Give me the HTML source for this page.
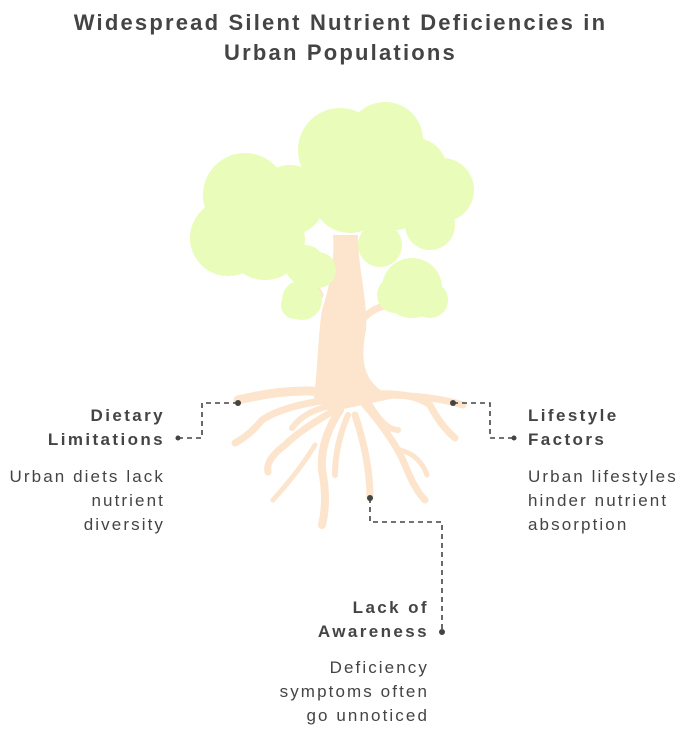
<!DOCTYPE html>
<html><head><meta charset="utf-8"><style>
body{margin:0;width:681px;height:729px;background:#fff;position:relative;font-family:"Liberation Sans",sans-serif;color:#444;overflow:hidden}
.t{position:absolute;white-space:nowrap}
h1{position:absolute;top:8px;left:0;width:681px;margin:0;text-align:center;font-size:22px;line-height:30px;font-weight:bold;color:#444;letter-spacing:2.2px}
.b{font-weight:bold;font-size:17px;line-height:24px;letter-spacing:2.4px}
.n{font-size:17px;line-height:24px;letter-spacing:2.1px}
.r{text-align:right}
</style></head><body>
<h1>Widespread Silent Nutrient Deficiencies in<br>Urban Populations</h1>
<svg width="681" height="729" style="position:absolute;left:0;top:0">
<g fill="none" stroke="#fde4cc" stroke-linecap="round">
<path d="M345,395 Q300,385 238,400" stroke-width="9"/>
<path d="M330,400 Q285,405 262,420 Q250,435 235,443" stroke-width="7"/>
<path d="M335,405 Q305,410 292,428" stroke-width="6"/>
<path d="M335,410 Q300,430 285,445 Q265,460 268,472" stroke-width="7"/>
<path d="M315,445 Q300,470 273,500" stroke-width="5"/>
<path d="M340,410 Q320,440 322,470 Q328,500 322,525" stroke-width="8"/>
<path d="M348,415 Q335,445 335,475" stroke-width="6"/>
<path d="M355,415 Q370,460 370,498" stroke-width="7"/>
<path d="M365,405 Q395,440 405,465 Q415,490 425,500" stroke-width="7"/>
<path d="M400,450 Q420,455 427,475" stroke-width="5"/>
<path d="M370,405 Q385,430 398,430" stroke-width="6"/>
<path d="M360,395 Q410,390 430,405 Q440,425 455,438" stroke-width="7"/>
<path d="M380,395 Q430,395 463,405" stroke-width="7"/>
<path d="M320,295 Q308,275 300,250" stroke-width="7"/>
<path d="M362,320 Q372,308 388,305" stroke-width="7"/>
</g>
<path fill="#fde4cc" d="M314,398 C318,365 318,335 322,310 C330,285 335,260 333,235 L358,235 C358,270 368,300 366,330 C360,360 362,385 395,398 L330,412 Z"/>
<g fill="#e9fcb9">
<circle cx="245" cy="195" r="42"/><circle cx="228" cy="238" r="38"/><circle cx="265" cy="240" r="40"/><circle cx="290" cy="200" r="35"/>
<circle cx="305" cy="265" r="20"/><circle cx="318" cy="270" r="18"/>
<circle cx="340" cy="150" r="42"/><circle cx="385" cy="140" r="38"/><circle cx="415" cy="170" r="32"/><circle cx="350" cy="195" r="38"/><circle cx="395" cy="200" r="30"/>
<circle cx="442" cy="190" r="32"/><circle cx="430" cy="225" r="25"/><circle cx="380" cy="245" r="22"/>
<circle cx="412" cy="288" r="30"/><circle cx="395" cy="295" r="18"/><circle cx="430" cy="300" r="18"/>
<circle cx="302" cy="300" r="20"/><circle cx="295" cy="305" r="14"/>
</g>
<g fill="none" stroke="#444" stroke-width="1.6" stroke-dasharray="5,4">
<path d="M238,403 H202 V438 H180"/>
<path d="M453,403 H490 V438 H512"/>
<path d="M370,498 V522 H442 V632"/>
</g>
<g fill="#444">
<circle cx="238" cy="403" r="3"/><circle cx="453" cy="403" r="3"/><circle cx="370" cy="498" r="3"/><circle cx="442" cy="632" r="3"/>
<circle cx="178" cy="438" r="2.5"/><circle cx="514" cy="438" r="2.5"/>
</g>
</svg>
<div class="t b r" style="right:516px;top:404px">Dietary<br>Limitations</div>
<div class="t n r" style="right:516px;top:465px">Urban diets lack<br>nutrient<br>diversity</div>
<div class="t b" style="left:528px;top:404px">Lifestyle<br>Factors</div>
<div class="t n" style="left:528px;top:465px">Urban lifestyles<br>hinder nutrient<br>absorption</div>
<div class="t b r" style="right:252px;top:596px">Lack of<br>Awareness</div>
<div class="t n r" style="right:252px;top:656px">Deficiency<br>symptoms often<br>go unnoticed</div>
</body></html>
